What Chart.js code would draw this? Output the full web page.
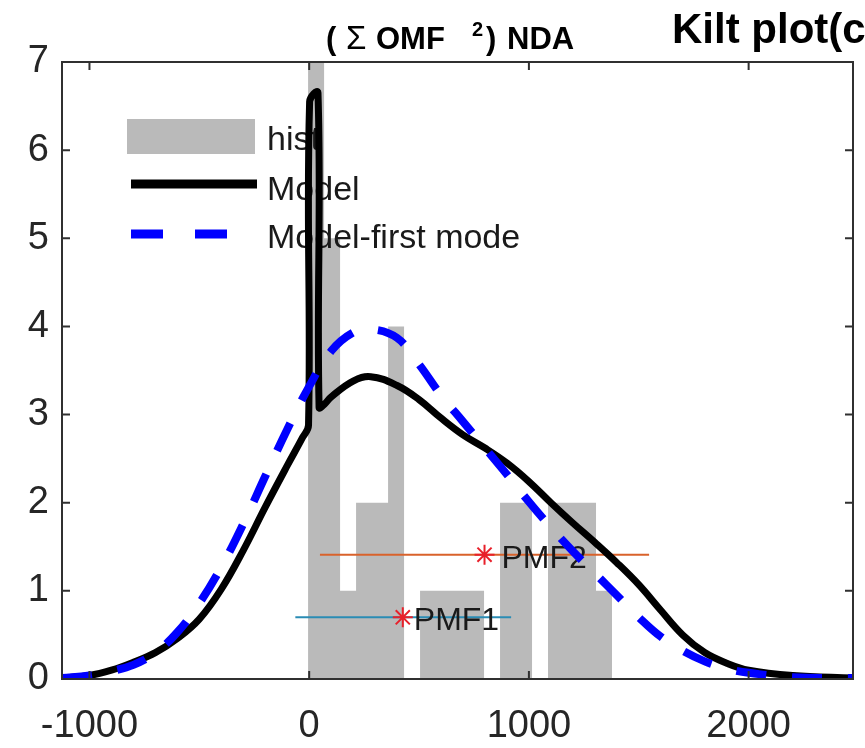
<!DOCTYPE html>
<html>
<head>
<meta charset="utf-8">
<script src="https://cdn.jsdelivr.net/npm/chart.js@4.4.1/dist/chart.umd.min.js"></script>
<style>
html, body { margin: 0; padding: 0; background: #fff; }
#box { width: 865px; height: 748px; }
</style>
</head>
<body>
<div id="box"><canvas id="g_kilt"></canvas></div>
<script>
// histogram: bin edges and counts
const histEdges = [-5, 67.8, 140.6, 213.4, 286.2, 359, 431.8, 504.6, 577.4, 650.2, 723, 795.8, 868.6, 941.4, 1014.2, 1087, 1159.8, 1232.6, 1305.4, 1378.2];
const histCounts = [7, 5, 1, 2, 2, 4, 0, 1, 1, 1, 1, 0, 2, 2, 0, 2, 2, 2, 1];

// Model curve (black)
const modelX = [-1125, -1000, -900, -800, -700, -600, -500, -400, -300, -200, -100, -30, -3, 2, 40, 45, 70, 100, 200, 280, 400, 500, 600, 700, 800, 900, 1000, 1100, 1200, 1300, 1400, 1500, 1600, 1700, 1800, 1900, 2000, 2200, 2475];
const modelY = [0.01, 0.04, 0.1, 0.19, 0.3, 0.46, 0.68, 1.02, 1.46, 1.95, 2.42, 2.74, 2.88, 6.55, 6.65, 3.08, 3.12, 3.2, 3.38, 3.43, 3.33, 3.17, 2.96, 2.77, 2.62, 2.45, 2.24, 2.0, 1.77, 1.55, 1.32, 1.07, 0.78, 0.5, 0.3, 0.18, 0.1, 0.04, 0.01];

// Model-first mode curve (blue dashed)
const firstX = [-1125, -1000, -900, -800, -700, -600, -500, -400, -300, -200, -100, 0, 100, 200, 280, 400, 500, 600, 700, 800, 900, 1000, 1100, 1200, 1300, 1400, 1500, 1600, 1700, 1800, 1900, 2000, 2200, 2475];
const firstY = [0.01, 0.04, 0.09, 0.16, 0.3, 0.53, 0.86, 1.27, 1.76, 2.3, 2.83, 3.32, 3.72, 3.93, 3.97, 3.87, 3.57, 3.22, 2.92, 2.62, 2.32, 2.01, 1.72, 1.45, 1.2, 0.95, 0.7, 0.48, 0.32, 0.2, 0.12, 0.07, 0.02, 0.01];

// PMF markers with their horizontal ranges
const pmfNames = ['PMF1', 'PMF2'];
const pmfCenter = [426, 798];
const pmfLow = [-63, 49];
const pmfHigh = [919, 1547];
const pmfLevel = [0.7, 1.41];
const pmfColors = ['#2a8cb4', '#d9622b'];
const pmfTextShift = [11, 17];

// axis ticks
const xTicks = [-1000, 0, 1000, 2000];
const yTicks = [0, 1, 2, 3, 4, 5, 6, 7];

const legendNames = ['hist', 'Model', 'Model-first mode'];
const FONT = '"Liberation Sans", Arial, sans-serif';

function toPoints(xs, ys) {
    let pts = [];
    for (let i = 0; i < xs.length; i++) {
        pts.push({ x: xs[i], y: ys[i] });
    }
    return pts;
}

// stepped histogram outline (value of a point holds until the next edge)
let histPts = [];
for (let i = 0; i < histCounts.length; i++) {
    histPts.push({ x: histEdges[i], y: histCounts[i] });
}
histPts.push({ x: histEdges[histEdges.length - 1], y: 0 });

let datasets = [{
    label: legendNames[0],
    data: histPts,
    stepped: 'before',
    fill: 'origin',
    backgroundColor: '#bababa',
    borderWidth: 0,
    pointRadius: 0,
    order: 10
}];
for (let i = 0; i < pmfNames.length; i++) {
    datasets.push({
        label: pmfNames[i] + ' range',
        data: [{ x: pmfLow[i], y: pmfLevel[i] }, { x: pmfHigh[i], y: pmfLevel[i] }],
        borderColor: pmfColors[i],
        borderWidth: 2,
        pointRadius: 0,
        order: 8
    });
}
datasets.push({
    label: 'stars',
    data: toPoints(pmfCenter, pmfLevel),
    showLine: false,
    pointStyle: 'star',
    pointRadius: 10,
    borderColor: '#e8202a',
    borderWidth: 2,
    order: 6
});
datasets.push({
    label: legendNames[1],
    data: toPoints(modelX, modelY),
    borderColor: '#000000',
    borderWidth: 7,
    pointRadius: 0,
    tension: 0.4,
    order: 4
});
datasets.push({
    label: legendNames[2],
    data: toPoints(firstX, firstY),
    borderColor: '#0000ff',
    borderWidth: 8,
    borderDash: [30, 26],
    pointRadius: 0,
    tension: 0.4,
    order: 2
});

// titles, legend, labels, box with inward ticks
const decor = {
    id: 'decor',
    afterDatasetDraw(chart, args) {
        const ctx = chart.ctx;
        const ds = chart.data.datasets[args.index];
        if (ds.label === legendNames[0]) {
            ctx.save();
            ctx.fillStyle = ds.backgroundColor;
            ctx.fillRect(127, 119, 128, 35);
            ctx.strokeStyle = '#000';
            ctx.lineWidth = 9;
            ctx.beginPath(); ctx.moveTo(131, 184); ctx.lineTo(257, 184); ctx.stroke();
            ctx.strokeStyle = '#0000ff';
            ctx.setLineDash([32, 32]);
            ctx.beginPath(); ctx.moveTo(131, 234); ctx.lineTo(257, 234); ctx.stroke();
            ctx.setLineDash([]);
            ctx.fillStyle = '#1a1a1a';
            ctx.font = '34px ' + FONT;
            ctx.textBaseline = 'alphabetic';
            ctx.fillText(legendNames[0], 267, 150);
            ctx.fillText(legendNames[1], 267, 200);
            ctx.fillText(legendNames[2], 267, 248);
            ctx.restore();
        }
        if (ds.label === 'stars') {
            const xs = chart.scales.x, ys = chart.scales.y;
            ctx.save();
            ctx.fillStyle = '#1a1a1a';
            ctx.font = '32px ' + FONT;
            ctx.textBaseline = 'alphabetic';
            for (let i = 0; i < pmfNames.length; i++) {
                ctx.fillText(pmfNames[i], xs.getPixelForValue(pmfCenter[i]) + pmfTextShift[i], ys.getPixelForValue(pmfLevel[i]) + 13);
            }
            ctx.restore();
        }
    },
    afterDraw(chart) {
        const ctx = chart.ctx;
        const a = chart.chartArea;
        const xs = chart.scales.x, ys = chart.scales.y;
        ctx.save();
        ctx.strokeStyle = '#303030';
        ctx.lineWidth = 2;
        ctx.strokeRect(a.left, a.top, a.right - a.left, a.bottom - a.top);
        ctx.beginPath();
        xTicks.forEach(v => {
            const px = xs.getPixelForValue(v);
            ctx.moveTo(px, a.bottom); ctx.lineTo(px, a.bottom - 8);
            ctx.moveTo(px, a.top); ctx.lineTo(px, a.top + 8);
        });
        yTicks.forEach(v => {
            const py = ys.getPixelForValue(v);
            ctx.moveTo(a.left, py); ctx.lineTo(a.left + 8, py);
            ctx.moveTo(a.right, py); ctx.lineTo(a.right - 8, py);
        });
        ctx.stroke();
        // titles
        ctx.fillStyle = '#000';
        ctx.textBaseline = 'alphabetic';
        ctx.font = 'bold 31px ' + FONT;
        ctx.fillText('(', 326, 49);
        ctx.font = '33px ' + FONT;
        ctx.fillText('\u03A3', 346, 49);
        ctx.font = 'bold 31px ' + FONT;
        ctx.fillText('OMF', 376, 49);
        ctx.font = 'bold 20px ' + FONT;
        ctx.fillText('2', 472, 36);
        ctx.font = 'bold 31px ' + FONT;
        ctx.fillText(')', 486, 49);
        ctx.fillText('NDA', 507, 49);
        ctx.font = 'bold 42px ' + FONT;
        ctx.fillText('Kilt plot(c', 672, 43);
        ctx.restore();
    }
};

let context = document.getElementById('g_kilt').getContext('2d');
let config = {
    type: 'line',
    data: { datasets: datasets },
    options: {
        responsive: true,
        maintainAspectRatio: false,
        animation: false,
        layout: { padding: { top: 62, right: 2, left: 0, bottom: 0 } },
        plugins: {
            legend: { display: false },
            tooltip: { enabled: false },
            title: { display: false }
        },
        scales: {
            x: {
                type: 'linear',
                min: -1125,
                max: 2475,
                grid: { display: false },
                border: { display: false },
                afterBuildTicks: s => { s.ticks = xTicks.map(v => ({ value: v })); },
                afterFit: s => { s.height = 69; },
                ticks: {
                    autoSkip: false,
                    maxRotation: 0,
                    padding: 17,
                    color: '#262626',
                    font: { size: 38, family: FONT },
                    callback: v => String(v)
                }
            },
            y: {
                type: 'linear',
                min: 0,
                max: 7,
                grid: { display: false },
                border: { display: false },
                afterBuildTicks: s => { s.ticks = yTicks.map(v => ({ value: v })); },
                afterFit: s => { s.width = 62; },
                ticks: {
                    padding: 5,
                    color: '#262626',
                    font: { size: 38, family: FONT },
                    callback: v => String(v)
                }
            }
        }
    },
    plugins: [decor]
};
let gKilt = new Chart(context, config);
</script>
</body>
</html>
